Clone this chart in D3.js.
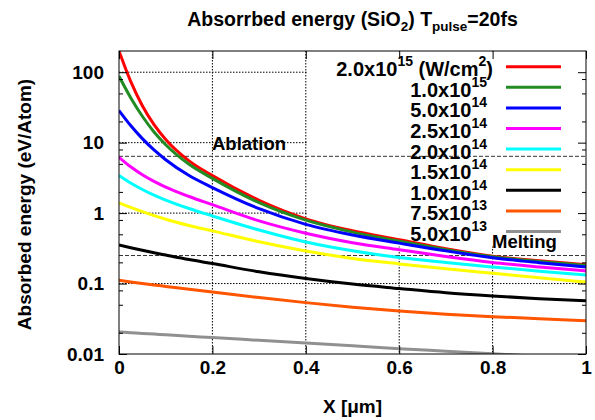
<!DOCTYPE html>
<html><head><meta charset="utf-8">
<script src="https://cdn.jsdelivr.net/npm/d3@7"></script>
<style>
body{margin:0;background:#fff}
svg{display:block}
text{font-family:"Liberation Sans",Arial,sans-serif;font-weight:bold;fill:#000}
</style>
</head><body>
<svg id="chart" width="595" height="420"></svg>
<script>
// ---- data ----
const xValues = [0, 0.025, 0.05, 0.075, 0.1, 0.15, 0.2, 0.3, 0.4, 0.5, 0.6, 0.7, 0.8, 0.9, 1.0];
const e2p0e15 = [200, 73.9, 33.4, 18.0, 11.1, 5.51, 3.40, 1.517, 0.830, 0.561, 0.420, 0.313, 0.245, 0.210, 0.185];
const e1p0e15 = [87.8, 43.5, 23.7, 14.2, 9.34, 4.93, 3.11, 1.406, 0.794, 0.537, 0.400, 0.303, 0.240, 0.205, 0.180];
const e5p0e14 = [28.6, 17.5, 11.4, 7.87, 5.72, 3.41, 2.30, 1.154, 0.691, 0.489, 0.375, 0.291, 0.233, 0.198, 0.172];
const e2p5e14 = [6.2, 4.54, 3.50, 2.82, 2.34, 1.72, 1.316, 0.775, 0.518, 0.380, 0.302, 0.242, 0.199, 0.172, 0.151];
const e2p0e14 = [3.43, 2.676, 2.163, 1.799, 1.531, 1.161, 0.912, 0.575, 0.389, 0.292, 0.234, 0.199, 0.172, 0.150, 0.132];
const e1p5e14 = [1.40, 1.206, 1.049, 0.922, 0.819, 0.667, 0.560, 0.392, 0.290, 0.227, 0.190, 0.162, 0.140, 0.121, 0.105];
const e1p0e14 = [0.352, 0.323, 0.297, 0.274, 0.254, 0.219, 0.192, 0.147, 0.118, 0.0983, 0.0850, 0.0740, 0.0666, 0.0610, 0.0568];
const e7p5e13 = [0.111, 0.1054, 0.1003, 0.0955, 0.0911, 0.0829, 0.0756, 0.0632, 0.0536, 0.0461, 0.0408, 0.0368, 0.0339, 0.0317, 0.0297];
const e5p0e13 = [0.0205, 0.02005, 0.0196, 0.01916, 0.01873, 0.0179, 0.0171, 0.01563, 0.0143, 0.01305, 0.0119, 0.01096, 0.0101, 0.00923, 0.00843];
const seriesValues = [e2p0e15, e1p0e15, e5p0e14, e2p5e14, e2p0e14, e1p5e14, e1p0e14, e7p5e13, e5p0e13];
const legendMantissa = ["2.0", "1.0", "5.0", "2.5", "2.0", "1.5", "1.0", "7.5", "5.0"];
const legendExponent = ["15", "15", "14", "14", "14", "14", "14", "13", "13"];
const xTickValues = [0, 0.2, 0.4, 0.6, 0.8, 1];
const xTickLabels = ["0", "0.2", "0.4", "0.6", "0.8", "1"];
const yTickValues = [0.01, 0.1, 1, 10, 100];
const yTickLabels = ["0.01", "0.1", "1", "10", "100"];
const yMinorTicks = [0.02, 0.05, 0.08, 0.2, 0.5, 0.8, 2, 5, 8, 20, 50, 80];
const ablationLevel = 6.4;
const meltingLevel = 0.25;

// ---- styles ----
const colors = ["#ff0000", "#228b22", "#0000ff", "#ff00ff", "#00ffff", "#ffff00", "#000000", "#ff5500", "#909090"];
const FONT = "Liberation Sans";

const svg = d3.select("#chart");
const L = 119, R = 586, T = 51, B = 354;
const x = d3.scaleLinear().domain([0, 1]).range([L, R]);
const y = d3.scaleLog().domain([0.01, 200]).range([B, T]);

svg.append("rect").attr("width", 595).attr("height", 420).attr("fill", "#fff");

svg.append("defs").append("clipPath").attr("id", "clip")
  .append("rect").attr("x", L).attr("y", T).attr("width", R - L).attr("height", B - T);

// grid
const grid = svg.append("g").attr("stroke", "#000").attr("stroke-width", 1).attr("stroke-dasharray", "1.5,1.5");
xTickValues.slice(1, -1).forEach(v => {
  grid.append("line").attr("x1", x(v)).attr("x2", x(v)).attr("y1", T).attr("y2", B);
});
yTickValues.slice(1).forEach(v => {
  grid.append("line").attr("x1", L).attr("x2", R).attr("y1", y(v)).attr("y2", y(v));
});

// key background (opaque)
svg.append("rect").attr("x", 307).attr("y", T + 0.5).attr("width", R - 307 - 0.5).attr("height", 246 - T).attr("fill", "#fff");

// threshold lines
[ablationLevel, meltingLevel].forEach(v => {
  svg.append("line").attr("x1", L).attr("x2", R).attr("y1", y(v)).attr("y2", y(v))
    .attr("stroke", "#333").attr("stroke-width", 1).attr("stroke-dasharray", "4,2");
});

// curves
const line = d3.line().x(d => x(d[0])).y(d => y(d[1])).curve(d3.curveMonotoneX);
const curves = svg.append("g").attr("clip-path", "url(#clip)");
seriesValues.forEach((vals, i) => {
  curves.append("path").datum(xValues.map((xv, j) => [xv, vals[j]]))
    .attr("d", line).attr("fill", "none").attr("stroke", colors[i]).attr("stroke-width", 3)
    .attr("stroke-linejoin", "round");
});

// axes
function styleAxis(g) { g.select(".domain").remove(); g.selectAll(".tick line").attr("stroke", "#000"); }
svg.append("g").attr("transform", `translate(0,${B})`)
  .call(d3.axisBottom(x).tickValues(xTickValues).tickFormat((d, i) => xTickLabels[i]).tickSize(-8).tickPadding(6.5))
  .call(styleAxis)
  .selectAll("text").attr("font-size", 19).attr("font-family", FONT).attr("font-weight", "bold");
svg.append("g").attr("transform", `translate(0,${T})`)
  .call(d3.axisTop(x).tickValues(xTickValues).tickFormat("").tickSize(-8)).call(styleAxis);
svg.append("g").attr("transform", `translate(${L},0)`)
  .call(d3.axisLeft(y).tickValues(yTickValues).tickFormat((d, i) => yTickLabels[i]).tickSize(-8).tickPadding(15))
  .call(styleAxis)
  .selectAll("text").attr("font-size", 19).attr("font-family", FONT).attr("font-weight", "bold");
svg.append("g").attr("transform", `translate(${L},0)`)
  .call(d3.axisLeft(y).tickValues(yMinorTicks).tickFormat("").tickSize(-4)).call(styleAxis);
svg.append("g").attr("transform", `translate(${R},0)`)
  .call(d3.axisRight(y).tickValues(yTickValues).tickFormat("").tickSize(-8)).call(styleAxis);
svg.append("g").attr("transform", `translate(${R},0)`)
  .call(d3.axisRight(y).tickValues(yMinorTicks).tickFormat("").tickSize(-4)).call(styleAxis);

// frame
svg.append("rect").attr("x", L).attr("y", T).attr("width", R - L).attr("height", B - T)
  .attr("fill", "none").attr("stroke", "#000").attr("stroke-width", 1);

// labels
svg.append("text").attr("x", 212).attr("y", 150).attr("font-size", 18.5).text("Ablation");
svg.append("text").attr("x", 492).attr("y", 248).attr("font-size", 18.5).text("Melting");

const title = svg.append("text").attr("x", (L + R) / 2).attr("y", 26).attr("text-anchor", "middle").attr("font-size", 19.5);
title.append("tspan").text("Absorrbed energy (SiO");
title.append("tspan").attr("dy", 5).attr("font-size", 13.5).text("2");
title.append("tspan").attr("dy", -5).text(") T");
title.append("tspan").attr("dy", 5).attr("font-size", 13.5).text("pulse");
title.append("tspan").attr("dy", -5).text("=20fs");

svg.append("text").attr("x", (L + R) / 2).attr("y", 413).attr("text-anchor", "middle").attr("font-size", 19).text("X [\u03bcm]");
svg.append("text").attr("transform", `translate(31,${(T + B) / 2 + 2}) rotate(-90)`).attr("text-anchor", "middle")
  .attr("font-size", 19).text("Absorbed energy (eV/Atom)");

// legend
legendMantissa.forEach((m, i) => {
  const ly = 66.7 + i * 20.6;
  const t = svg.append("text").attr("x", i === 0 ? 493 : 487).attr("y", ly + 9.5).attr("text-anchor", "end").attr("font-size", 20);
  t.append("tspan").text(m + "x10");
  t.append("tspan").attr("dy", -10).attr("font-size", 14).text(legendExponent[i]);
  if (i === 0) {
    t.append("tspan").attr("dy", 10).text(" (W/cm");
    t.append("tspan").attr("dy", -10).attr("font-size", 14).text("2");
    t.append("tspan").attr("dy", 10).text(")");
  }
  svg.append("line").attr("x1", 506).attr("x2", 561).attr("y1", ly).attr("y2", ly)
    .attr("stroke", colors[i]).attr("stroke-width", 3);
});
</script>
</body></html>
